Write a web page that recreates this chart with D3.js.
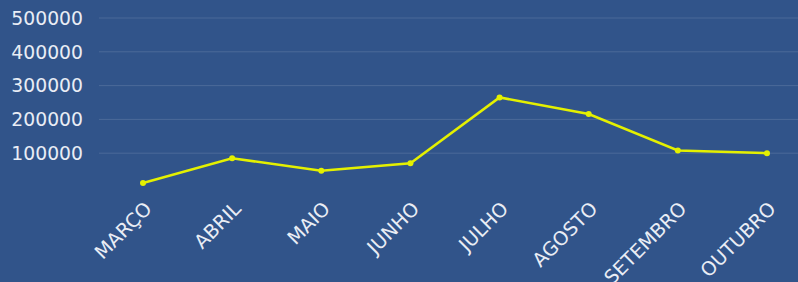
<!DOCTYPE html>
<html><head><meta charset="utf-8">
<script src="https://cdn.jsdelivr.net/npm/d3@7"></script>
<style>html,body{margin:0;padding:0;background:#31548a;}svg{display:block}</style>
</head><body><svg id="c" width="798" height="282"></svg>
<script>
const months = ["MARÇO","ABRIL","MAIO","JUNHO","JULHO","AGOSTO","SETEMBRO","OUTUBRO"];
const values = [12000, 85000, 48000, 70000, 265000, 216000, 108000, 100000];
const yTicks = [100000, 200000, 300000, 400000, 500000];

const W = 798, H = 282;
const svg = d3.select("#c");
svg.append("rect").attr("width", W).attr("height", H).attr("fill", "#31548a");

const x = d3.scalePoint().domain(months).range([143, 767]);
const y = d3.scaleLinear().domain([0, 500000]).range([187, 18]);
const font = "DejaVu Sans, sans-serif";

// grid
svg.append("g").selectAll("line").data(yTicks).join("line")
  .attr("x1", 99).attr("x2", W)
  .attr("y1", d => y(d)).attr("y2", d => y(d))
  .attr("stroke", "rgba(255,255,255,0.13)").attr("stroke-width", 1);

// y labels
svg.append("g").selectAll("text").data(yTicks).join("text")
  .attr("x", 83).attr("y", d => y(d)).attr("dy", "0.36em")
  .attr("text-anchor", "end").attr("fill", "#e9edf5")
  .style("font-family", font).style("font-size", "18.8px")
  .text(d => d);

// x labels
svg.append("g").selectAll("text").data(months).join("text")
  .attr("transform", d => `translate(${x(d) + 10},${210}) rotate(-45)`)
  .attr("text-anchor", "end").attr("fill", "#e9edf5")
  .style("font-family", font).style("font-size", "19.3px")
  .text(d => d);

// line
const line = d3.line().x((d, i) => x(months[i])).y(d => y(d));
svg.append("path").datum(values).attr("d", line)
  .attr("fill", "none").attr("stroke", "#e4f000").attr("stroke-width", 2.5);
svg.append("g").selectAll("circle").data(values).join("circle")
  .attr("cx", (d, i) => x(months[i])).attr("cy", d => y(d)).attr("r", 3)
  .attr("fill", "#e4f000");
</script></body></html>
